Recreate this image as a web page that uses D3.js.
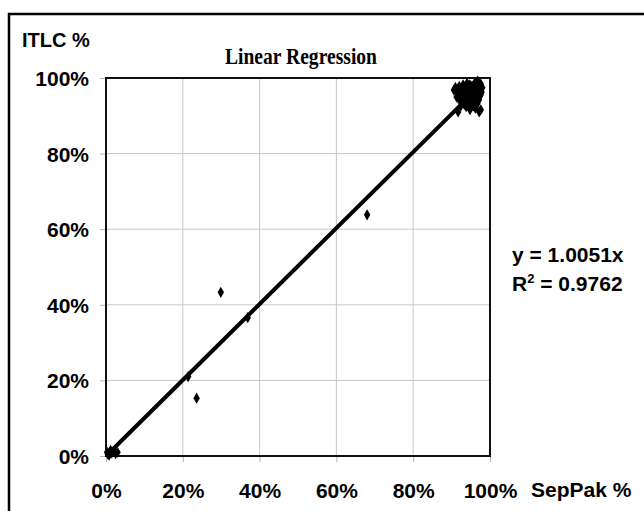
<!DOCTYPE html>
<html lang="en">
<head>
    <meta charset="UTF-8">
    <title>Linear Regression</title>
    <script src="https://d3js.org/d3.v7.min.js"></script>
    <style>
        body {
            margin: 0;
            background: #fff;
        }

        svg {
            display: block;
        }

        .tick-label {
            font-family: "Liberation Sans", Arial, sans-serif;
            font-weight: bold;
            font-size: 21px;
            fill: #000;
        }

        .title {
            font-family: "Liberation Serif", "Times New Roman", serif;
            font-weight: bold;
            font-size: 23px;
            fill: #000;
        }

        .grid line {
            stroke: #c8c8c8;
            stroke-width: 1px;
        }
    </style>
</head>
<body>
    <svg id="chart" width="644" height="511"></svg>

    <script>
        // SepPak % (x) and ITLC % (y)
        const sepPak = [
            91.0, 91.5, 91.8, 92.0, 92.3, 92.6, 92.8, 93.0, 93.1, 93.3,
            93.5, 93.7, 93.9, 94.0, 94.2, 94.4, 94.5, 94.7, 94.9, 95.0,
            95.2, 95.3, 95.5, 95.6, 95.8, 96.0, 96.1, 96.3, 96.5, 96.6,
            96.8, 97.0, 97.1, 97.3, 97.5, 97.6, 92.1, 92.9, 93.6, 94.3,
            95.1, 95.9, 96.4, 93.2, 94.6, 95.4, 96.9, 91.3, 90.6, 92.4,
            97.8, 98.0, 93.8, 91.7, 94.8, 96.2, 97.2, 97.6, 96.7, 94.1,
            95.7,
            0.5, 1.0, 1.5, 2.0, 2.5, 0.8, 3.0, 1.2, 0.3,
            21.4, 23.6, 29.9, 36.9, 68.0
        ];
        const itlc = [
            97.5, 96.0, 94.5, 97.8, 95.2, 93.8, 96.6, 98.2, 95.0, 93.0,
            97.0, 96.0, 94.2, 98.6, 95.6, 97.4, 93.6, 96.4, 95.0, 98.0,
            94.4, 96.8, 97.8, 95.4, 93.8, 96.2, 98.8, 94.8, 97.2, 95.8,
            99.2, 96.6, 94.2, 97.8, 95.4, 98.4, 96.2, 94.6, 95.4, 94.8,
            95.8, 97.0, 96.0, 96.8, 98.2, 93.2, 95.0, 95.0, 96.8, 92.6,
            96.2, 97.4, 92.4, 91.0, 91.6, 92.0, 91.0, 91.6, 93.2, 93.0,
            92.6,
            0.5, 1.0, 0.8, 1.2, 0.6, 0.2, 1.0, 1.5, 1.0,
            21.0, 15.3, 43.3, 36.6, 63.8
        ];

        const slope = 1.0051;
        const equation = "y = 1.0051x";
        const rSquared = "0.9762";

        const xTicks = [0, 20, 40, 60, 80, 100];
        const yTicks = [0, 20, 40, 60, 80, 100];

        const svg = d3.select("#chart");
        const plot = { left: 106, top: 78, right: 490, bottom: 456 };

        const x = d3.scaleLinear().domain([0, 100]).range([plot.left, plot.right]);
        const y = d3.scaleLinear().domain([0, 100]).range([plot.bottom, plot.top]);

        // outer frame (only top and left edges are in view)
        svg.append("path")
            .attr("d", "M9,511 V14 H644")
            .attr("fill", "none")
            .attr("stroke", "#000")
            .attr("stroke-width", 2.5);

        // gridlines
        const grid = svg.append("g").attr("class", "grid");
        grid.selectAll(".gx")
            .data(xTicks.slice(1, -1))
            .enter().append("line")
            .attr("x1", d => x(d)).attr("x2", d => x(d))
            .attr("y1", plot.top).attr("y2", plot.bottom);
        grid.selectAll(".gy")
            .data(yTicks.slice(1, -1))
            .enter().append("line")
            .attr("x1", plot.left).attr("x2", plot.right)
            .attr("y1", d => y(d)).attr("y2", d => y(d));

        // axes: small gray ticks outside, labels bold
        const xAxis = d3.axisBottom(x).tickValues(xTicks).tickSize(6).tickPadding(21)
            .tickFormat(d => d + "%");
        const yAxis = d3.axisLeft(y).tickValues(yTicks).tickSize(6).tickPadding(11)
            .tickFormat(d => d + "%");

        const gx = svg.append("g")
            .attr("transform", `translate(0,${plot.bottom})`)
            .call(xAxis);
        const gy = svg.append("g")
            .attr("transform", `translate(${plot.left},0)`)
            .call(yAxis);

        [gx, gy].forEach(g => {
            g.select(".domain").remove();
            g.selectAll(".tick line").attr("stroke", "#b4b4b4");
            g.selectAll(".tick text").attr("class", "tick-label");
        });
        gy.selectAll(".tick text").attr("dy", "0.36em");

        // plot frame
        svg.append("rect")
            .attr("x", plot.left).attr("y", plot.top)
            .attr("width", plot.right - plot.left)
            .attr("height", plot.bottom - plot.top)
            .attr("fill", "none")
            .attr("stroke", "#111")
            .attr("stroke-width", 2);

        // trendline over the x data range
        const xMax = d3.max(sepPak);
        svg.append("line")
            .attr("x1", x(0)).attr("y1", y(0))
            .attr("x2", x(xMax)).attr("y2", y(slope * xMax))
            .attr("stroke", "#000")
            .attr("stroke-width", 4);

        // points
        const diamond = d3.symbol().type(d3.symbolDiamond).size(36);
        svg.append("g")
            .selectAll("path")
            .data(sepPak.map((v, i) => [v, itlc[i]]))
            .enter().append("path")
            .attr("d", diamond)
            .attr("transform", d => `translate(${x(d[0])},${y(d[1])})`)
            .attr("fill", "#000");

        // titles
        svg.append("text")
            .attr("class", "tick-label")
            .attr("x", 22).attr("y", 47)
            .style("font-size", "20px")
            .text("ITLC %");

        svg.append("text")
            .attr("class", "title")
            .attr("x", 301).attr("y", 64)
            .attr("text-anchor", "middle")
            .attr("textLength", 152)
            .attr("lengthAdjust", "spacingAndGlyphs")
            .text("Linear Regression");

        svg.append("text")
            .attr("class", "tick-label")
            .attr("x", 531).attr("y", 497)
            .text("SepPak %");

        // regression equation
        svg.append("text")
            .attr("class", "tick-label")
            .attr("x", 512).attr("y", 262)
            .text(equation);

        const r2 = svg.append("text")
            .attr("class", "tick-label")
            .attr("x", 512).attr("y", 291);
        r2.append("tspan").text("R");
        r2.append("tspan").attr("dy", -8).style("font-size", "13px").text("2");
        r2.append("tspan").attr("dy", 8).text(" = " + rSquared);
    </script>
</body>
</html>
